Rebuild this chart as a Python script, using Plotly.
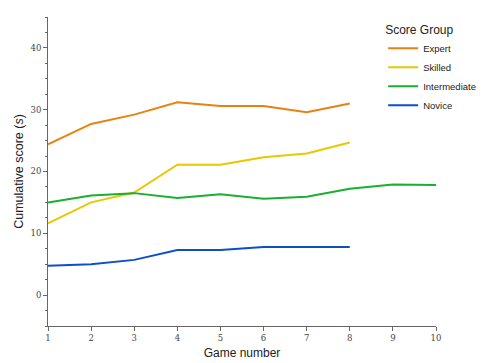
import plotly.graph_objects as go

games = [1, 2, 3, 4, 5, 6, 7, 8, 9, 10]
expert = [24.4, 27.7, 29.2, 31.2, 30.6, 30.6, 29.6, 31.0]
skilled = [11.6, 15.0, 16.6, 21.1, 21.1, 22.3, 22.9, 24.7]
intermediate = [15.0, 16.1, 16.5, 15.7, 16.3, 15.6, 15.9, 17.2, 17.9, 17.8]
novice = [4.75, 5.0, 5.7, 7.3, 7.3, 7.8, 7.8, 7.8]

series = [
    ("Expert", expert, "#E8820E"),
    ("Skilled", skilled, "#E8C800"),
    ("Intermediate", intermediate, "#19B030"),
    ("Novice", novice, "#0B4FCC"),
]

fig = go.Figure()
for name, vals, color in series:
    fig.add_trace(go.Scatter(x=games[:len(vals)], y=vals, mode="lines", name=name,
                             line=dict(color=color, width=2)))

tickfont = dict(family="DejaVu Serif, Liberation Serif, serif", size=8.5, color="#444")
fig.update_layout(
    width=485, height=363,
    margin=dict(l=48, r=49, t=17, b=37, autoexpand=False),
    plot_bgcolor="white", paper_bgcolor="white",
    font=dict(family="Liberation Sans, Arial, sans-serif", color="#222"),
    legend=dict(
        title=dict(text="Score Group", font=dict(size=12)),
        font=dict(size=9.5),
        xref="container", yref="container",
        x=0.79, y=0.95, xanchor="left", yanchor="top",
        bgcolor="rgba(0,0,0,0)", tracegroupgap=0, itemwidth=30,
    ),
    showlegend=True,
)
fig.update_xaxes(
    range=[1, 10], tickvals=games, ticktext=[str(g) for g in games],
    showline=True, linecolor="#666", linewidth=1, showgrid=False, zeroline=False,
    ticks="outside", ticklen=4, tickcolor="#666", tickfont=tickfont,
    title=dict(text="Game number", font=dict(size=12), standoff=6),
)
fig.update_yaxes(
    range=[-5, 45], tickvals=[0, 10, 20, 30, 40], ticktext=["0", "10", "20", "30", "40"],
    showline=True, linecolor="#666", linewidth=1, showgrid=False, zeroline=False,
    ticks="outside", ticklen=4, tickcolor="#666", tickfont=tickfont,
    minor=dict(dtick=2.5, tick0=0, ticks="outside", ticklen=2, tickcolor="#666"),
    title=dict(text="Cumulative score (<i>s</i>)", font=dict(size=12.5), standoff=4),
)
fig.write_html("out.html", config={"displayModeBar": False},
               post_script="document.body.style.margin='0';")
